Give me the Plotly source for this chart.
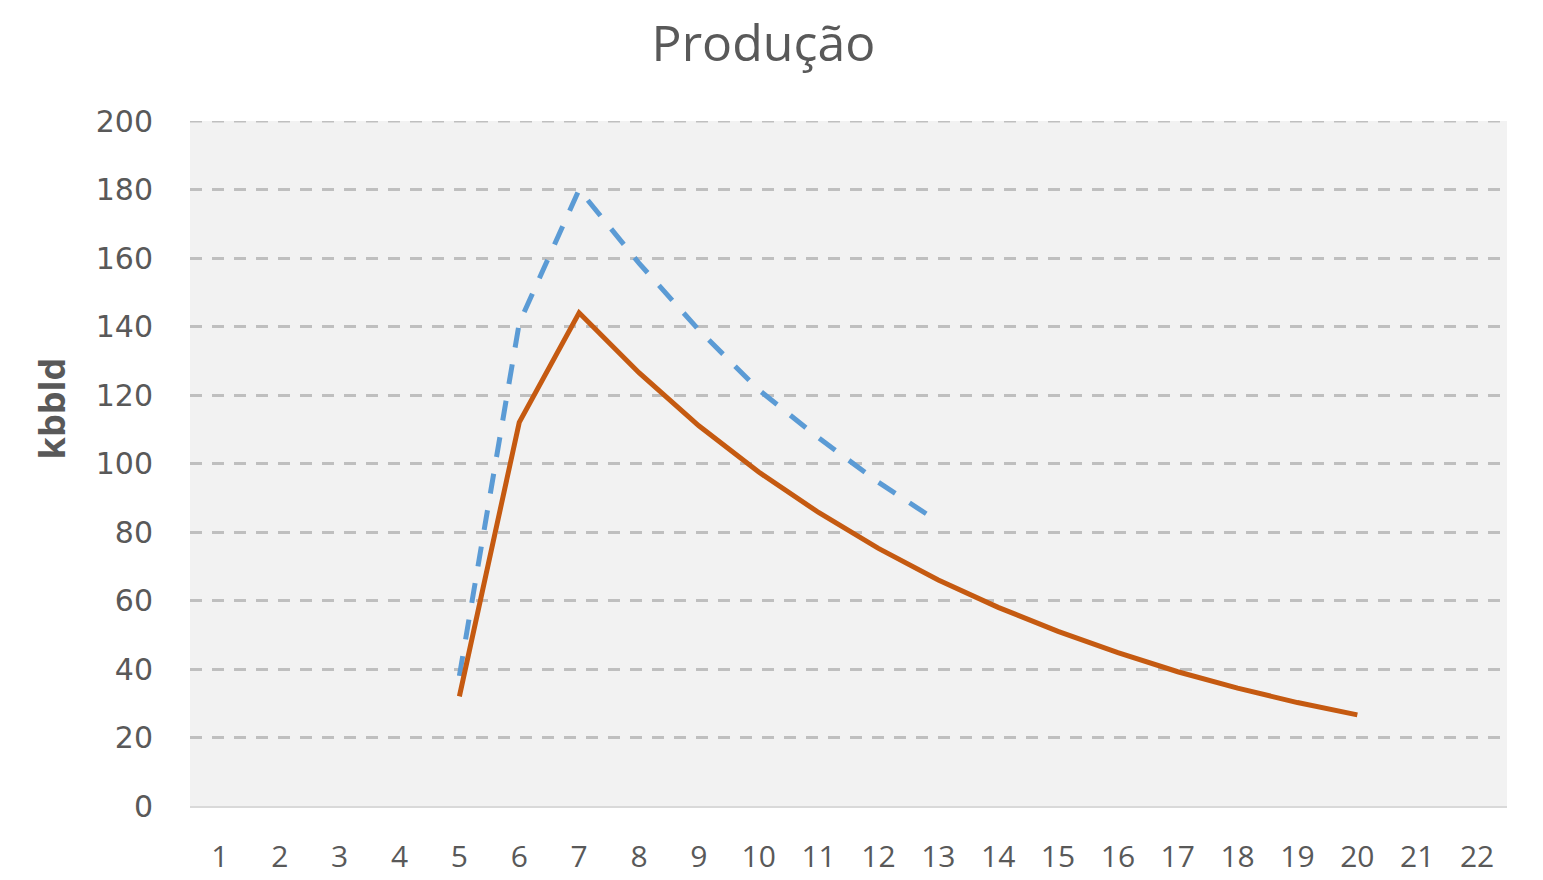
import plotly.graph_objects as go

categories = list(range(1, 23))
orange_x = list(range(5, 21))
orange_y = [32, 112, 144, 126.5, 111, 97.5, 85.7, 75.2, 66, 58, 51, 44.8, 39.2, 34.4, 30.2, 26.6]
blue_x = list(range(5, 14))
blue_y = [38, 141, 180, 158.5, 139, 121.5, 107.5, 94.5, 83]
y_ticks = list(range(0, 201, 20))

fig = go.Figure()
fig.add_trace(go.Scatter(x=blue_x, y=blue_y, mode="lines",
                         line=dict(color="#5B9BD5", width=5, dash="20px,17px"),
                         showlegend=False))
fig.add_trace(go.Scatter(x=orange_x, y=orange_y, mode="lines",
                         line=dict(color="#C55A11", width=5),
                         showlegend=False))

# top gridline at the range maximum (plotly omits gridlines on the range edge)
fig.add_shape(type="line", xref="paper", yref="y", x0=0, x1=1,
              y0=max(y_ticks), y1=max(y_ticks),
              line=dict(color="#bfbfbf", width=3, dash="12px,10px"), layer="below")

fig.add_annotation(text="<b>kbbld</b>", xref="paper", yref="paper", x=-0.105, y=0.58,
                   textangle=-90, showarrow=False, xanchor="center", yanchor="middle",
                   font=dict(family="Open Sans", size=36, color="#595959"))

fig.update_layout(
    width=1543, height=880,
    margin=dict(l=182, r=44, t=113, b=82),
    paper_bgcolor="white",
    plot_bgcolor="#f2f2f2",
    title=dict(text="Produção", x=0.4896, xanchor="center", y=0.9602, yanchor="middle",
               font=dict(family="Open Sans", size=50, color="#595959")),
    xaxis=dict(range=[0.5, 22.5], tickvals=categories, ticktext=[str(c) for c in categories],
               automargin=False,
               showgrid=False, zeroline=False, showline=True, linecolor="#d9d9d9", linewidth=2,
               ticks="outside", ticklen=23, tickcolor="rgba(0,0,0,0)",
               tickfont=dict(family="Open Sans", size=30, color="#595959")),
    yaxis=dict(range=[0, 200], tickvals=y_ticks, showgrid=True, gridcolor="#bfbfbf",
               automargin=False,
               griddash="12px,10px", gridwidth=3, zeroline=False, showline=False,
               ticks="outside", ticklen=30, tickcolor="rgba(0,0,0,0)",
               tickfont=dict(family="DejaVu Sans", size=30, color="#595959")),
)
fig.write_html("out.html")
